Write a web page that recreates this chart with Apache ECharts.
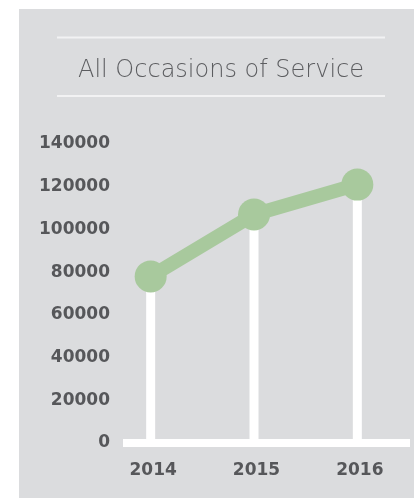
<!DOCTYPE html>
<html>
<head>
<meta charset="utf-8">
<script src="https://cdn.jsdelivr.net/npm/echarts@6/dist/echarts.min.js"></script>
<style>
  html, body { margin: 0; padding: 0; background: #ffffff; }
  #panel { position: absolute; left: 19px; top: 9px; width: 395px; height: 489px; background: #dbdcde; }
  #chart { width: 395px; height: 489px; }
</style>
</head>
<body>
<div id="panel"><div id="chart"></div></div>
<script>
// Yearly totals of all occasions of service
const years = ['2014', '2015', '2016'];
const occasions = [78000, 107000, 121000];
const yTicks = [0, 20000, 40000, 60000, 80000, 100000, 120000, 140000];
const chartTitle = 'All Occasions of Service';

const labelColor = '#56575a';
const green = '#a8c99d';

const chart = echarts.init(document.getElementById('chart'), null, { renderer: 'canvas' });

const option = {
  animation: false,
  grid: { left: 80, right: 5, top: 135, bottom: 55, containLabel: false },
  xAxis: {
    type: 'category',
    data: years,
    boundaryGap: true,
    axisLine: { show: false },
    axisTick: { show: false },
    splitLine: { show: false },
    axisLabel: {
      color: labelColor,
      fontFamily: 'DejaVu Sans',
      fontWeight: 'bold',
      fontSize: 17,
      margin: 19,
      padding: [0, 0, 0, 5]
    }
  },
  yAxis: {
    type: 'value',
    min: yTicks[0],
    max: yTicks[yTicks.length - 1],
    interval: yTicks[1] - yTicks[0],
    axisLine: { show: false },
    axisTick: { show: false },
    splitLine: { show: false },
    axisLabel: {
      color: labelColor,
      fontFamily: 'DejaVu Sans',
      fontWeight: 'bold',
      fontSize: 17,
      margin: -11,
      formatter: function (v) { return String(v); }
    }
  },
  series: [
    {
      type: 'bar',
      data: occasions,
      barWidth: 9,
      itemStyle: { color: '#ffffff' },
      z: 1,
      silent: true
    },
    {
      type: 'line',
      data: occasions,
      symbol: 'circle',
      symbolSize: 32,
      lineStyle: { color: green, width: 14 },
      itemStyle: { color: green },
      z: 3,
      silent: true
    }
  ]
};

chart.setOption(option);

// Title rules, title text and the white base rule
const baseY = chart.convertToPixel({ yAxisIndex: 0 }, 0);
chart.setOption({
  graphic: [
    { type: 'line', shape: { x1: 38, y1: 28.5, x2: 366, y2: 28.5 }, style: { stroke: '#f2f2f3', lineWidth: 2 } },
    { type: 'line', shape: { x1: 38, y1: 87, x2: 366, y2: 87 }, style: { stroke: '#f2f2f3', lineWidth: 2 } },
    {
      type: 'text', x: 202, y: 62,
      style: {
        text: chartTitle, align: 'center', verticalAlign: 'middle',
        fill: '#5c5d60', font: '200 24px "DejaVu Sans"'
      }
    },
    { type: 'line', z: 0, shape: { x1: 104, y1: baseY, x2: 391, y2: baseY }, style: { stroke: '#ffffff', lineWidth: 8 } }
  ]
});
</script>
</body>
</html>
